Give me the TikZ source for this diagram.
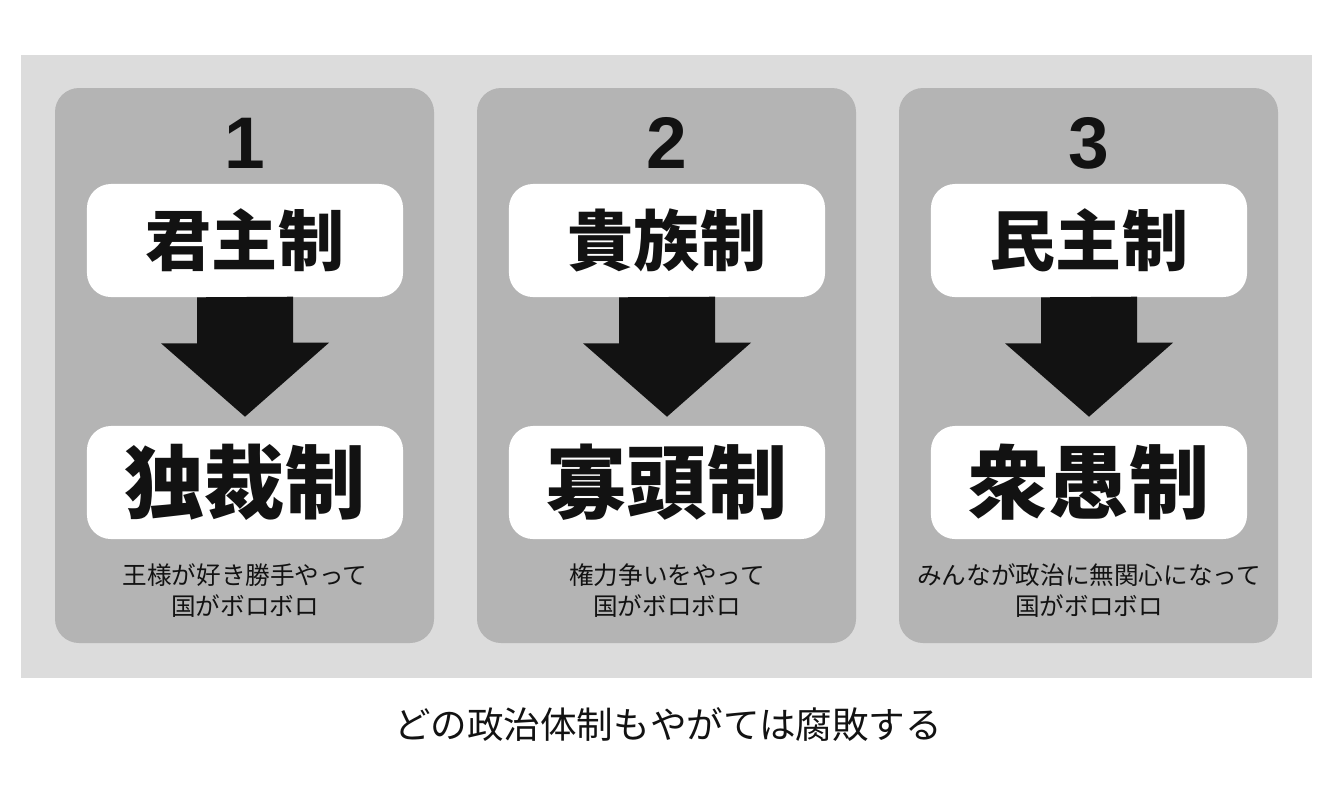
\documentclass[tikz,border=0pt]{standalone}
\usepackage{fontspec}
\newfontfamily\cjk{Noto Sans CJK JP}
\newfontfamily\cjkblack{Noto Sans CJK JP Black}
\newfontfamily\digitfont{Liberation Sans}
\usepackage{tikz}

\definecolor{outergray}{gray}{0.863}
\definecolor{panelgray}{gray}{0.705}
\definecolor{inkblack}{gray}{0.07}

\tikzset{
  panel/.style={fill=panelgray, rounded corners=0.6cm},
  numlabel/.style={font=\digitfont\bfseries\fontsize{52}{52}\selectfont, text=inkblack},
  govbox/.style={fill=white, rounded corners=0.6cm, minimum width=7.9cm,
    minimum height=2.825cm, inner sep=0pt, text=inkblack},
  oldgov/.style={govbox, font=\cjkblack\fontsize{47}{47}\selectfont},
  badgov/.style={govbox, font=\cjkblack\fontsize{57}{57}\selectfont},
  blockarrow/.style={fill=inkblack},
  note/.style={font=\cjk\fontsize{17.5}{22}\selectfont, text=inkblack, align=center}
}

\begin{document}
\begin{tikzpicture}[x=0.025cm, y=-0.025cm]
  \useasboundingbox (0,0) rectangle (1334,792);
  \fill[outergray] (21,55) rectangle (1312,678);

  % panel 1
  \fill[panel] (55,88) rectangle (434,643);
  \node[numlabel] (n1) at (245,143) {1};
  \node[oldgov] (k1) at (245,240.5) {君主制};
  \node[badgov] (d1) at (245,482.5) {独裁制};
  \fill[blockarrow] (k1.south) ++(-48,0) -- ++(0,46) -- ++(-36,0)
    -- ([yshift=0.225cm]d1.north) -- ++(84,-74) -- ++(-36,0) -- ++(0,-46) -- cycle;
  \node[note] (c1) at (245,591) {王様が好き勝手やって\\国がボロボロ};

  % panel 2
  \fill[panel] (477,88) rectangle (856,643);
  \node[numlabel] (n2) at (667,143) {2};
  \node[oldgov] (k2) at (667,240.5) {貴族制};
  \node[badgov] (d2) at (667,482.5) {寡頭制};
  \fill[blockarrow] (k2.south) ++(-48,0) -- ++(0,46) -- ++(-36,0)
    -- ([yshift=0.225cm]d2.north) -- ++(84,-74) -- ++(-36,0) -- ++(0,-46) -- cycle;
  \node[note] (c2) at (667,591) {権力争いをやって\\国がボロボロ};

  % panel 3
  \fill[panel] (899,88) rectangle (1278,643);
  \node[numlabel] (n3) at (1089,143) {3};
  \node[oldgov] (k3) at (1089,240.5) {民主制};
  \node[badgov] (d3) at (1089,482.5) {衆愚制};
  \fill[blockarrow] (k3.south) ++(-48,0) -- ++(0,46) -- ++(-36,0)
    -- ([yshift=0.225cm]d3.north) -- ++(84,-74) -- ++(-36,0) -- ++(0,-46) -- cycle;
  \node[note] (c3) at (1089,591) {みんなが政治に無関心になって\\国がボロボロ};

  \node[font=\cjk\fontsize{26}{26}\selectfont, text=inkblack] (cap) at (668,725)
    {どの政治体制もやがては腐敗する};
\end{tikzpicture}
\end{document}
